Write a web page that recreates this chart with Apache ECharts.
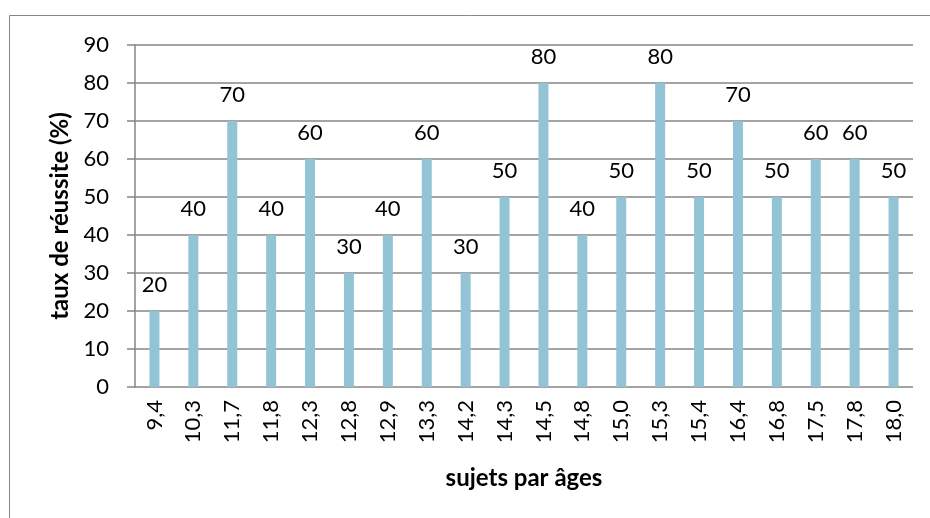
<!DOCTYPE html>
<html>
<head>
<meta charset="utf-8">
<script src="https://cdn.jsdelivr.net/npm/echarts@6/dist/echarts.min.js"></script>
<style>
  html, body { margin: 0; padding: 0; background: #fff; }
  #chart { width: 930px; height: 518px; }
</style>
</head>
<body>
<div id="chart"></div>
<script>
// âges des sujets (axe horizontal)
const ages = ['9,4', '10,3', '11,7', '11,8', '12,3', '12,8', '12,9', '13,3', '14,2', '14,3',
  '14,5', '14,8', '15,0', '15,3', '15,4', '16,4', '16,8', '17,5', '17,8', '18,0'];
// taux de réussite (%)
const taux = [20, 40, 70, 40, 60, 30, 40, 60, 30, 50, 80, 40, 50, 80, 50, 70, 50, 60, 60, 50];
const yTicks = { min: 0, max: 90, interval: 10 };

const font = 'Lato, "Open Sans", sans-serif';
const grey = '#868686';

let myChart = echarts.init(document.getElementById('chart'));
myChart.setOption({
  animation: false,
  textStyle: { fontFamily: font },
  graphic: [{
    type: 'rect',
    shape: { x: 9.5, y: 15.5, width: 940, height: 540 },
    style: { fill: 'none', stroke: grey, lineWidth: 1 }
  }],
  grid: { left: 135, right: 17, top: 45, bottom: 131 },
  xAxis: {
    type: 'category',
    data: ages,
    name: 'sujets par âges',
    nameLocation: 'middle',
    nameGap: 79,
    nameTextStyle: { fontSize: 24, fontWeight: 'bold', color: '#000', fontFamily: font },
    axisLine: { show: false },
    axisTick: { show: false },
    axisLabel: { rotate: 90, margin: 13, fontSize: 22, color: '#000', fontFamily: font }
  },
  yAxis: {
    type: 'value',
    min: yTicks.min,
    max: yTicks.max,
    interval: yTicks.interval,
    name: 'taux de réussite (%)',
    nameLocation: 'middle',
    nameGap: 62,
    nameTextStyle: { fontSize: 24, fontWeight: 'bold', color: '#000', fontFamily: font },
    axisLine: { show: true, lineStyle: { color: grey, width: 1.5 } },
    axisTick: { show: true, length: 8, inside: false, lineStyle: { color: grey, width: 1.5 } },
    splitLine: { show: true, lineStyle: { color: grey, width: 1.5 } },
    axisLabel: { margin: 26, fontSize: 22, color: '#000', fontFamily: font }
  },
  series: [{
    type: 'bar',
    data: taux,
    barWidth: 10,
    itemStyle: { color: '#92C4D6' },
    label: {
      show: true,
      position: 'top',
      distance: 15,
      fontSize: 22,
      color: '#000',
      fontFamily: font
    }
  }]
});
</script>
</body>
</html>
